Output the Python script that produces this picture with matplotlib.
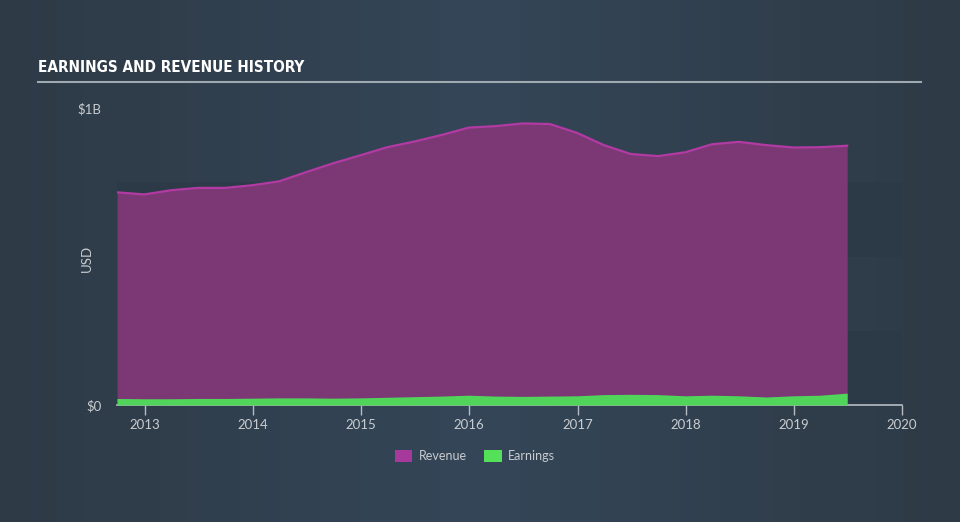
import numpy as np
import pandas as pd
import matplotlib
matplotlib.use("Agg")
import matplotlib.pyplot as plt
from matplotlib.patches import Patch
from matplotlib.colors import LinearSegmentedColormap

# ---- data (USD, billions) ----
dates = pd.date_range("2012-09-30", "2019-06-30", freq="QE")
revenue = [0.716, 0.709, 0.723, 0.731, 0.731, 0.740, 0.753, 0.784, 0.814,
           0.841, 0.868, 0.887, 0.909, 0.934, 0.939, 0.948, 0.946, 0.916,
           0.875, 0.845, 0.838, 0.851, 0.878, 0.886, 0.875, 0.867, 0.868, 0.873]
earnings = [0.022, 0.021, 0.021, 0.022, 0.022, 0.023, 0.024, 0.024, 0.023,
            0.024, 0.026, 0.028, 0.030, 0.033, 0.030, 0.029, 0.030, 0.031,
            0.035, 0.036, 0.035, 0.031, 0.033, 0.031, 0.027, 0.031, 0.033, 0.040]
year_ticks = [2013, 2014, 2015, 2016, 2017, 2018, 2019, 2020]
y_ticks = [0.0, 1.0]
y_labels = ["$0", "$1B"]
title = "EARNINGS AND REVENUE HISTORY"

rev_scaled = np.array(revenue)
earn_scaled = np.array(earnings)

fig = plt.figure(figsize=(9.6, 5.22), dpi=100)

# background gradient
bg = fig.add_axes([0, 0, 1, 1], zorder=-10)
cmap = LinearSegmentedColormap.from_list("bg", ["#2e3a46", "#344658", "#2e3a46"])
grad = np.linspace(0, 1, 256).reshape(1, -1)
bg.imshow(grad, aspect="auto", cmap=cmap, extent=[0, 1, 0, 1])
bg.set_axis_off()

W, H = 960, 522
left, right, top, bottom = 117, 902, 108, 405
ax = fig.add_axes([left / W, (H - bottom) / H, (right - left) / W, (bottom - top) / H])
ax.patch.set_alpha(0)

# bands
ax.axhspan(0.0, 0.25, color="#2b3845", alpha=0.5, lw=0, zorder=0)
ax.axhspan(0.5, 0.75, color="#2b3845", alpha=0.5, lw=0, zorder=0)

ax.fill_between(dates, 0, rev_scaled, color="#7b3875", lw=0, zorder=2)
ax.plot(dates, rev_scaled, color="#b23aa3", lw=1.6, zorder=3)
ax.fill_between(dates, 0, earn_scaled, color="#50d55a", lw=0, zorder=4)

ax.set_xlim(dates[0], pd.Timestamp("2020-01-01"))
ax.set_ylim(0, 1.0)
ax.set_xticks([pd.Timestamp(f"{y}-01-01") for y in year_ticks])
ax.set_xticklabels([str(y) for y in year_ticks])
ax.set_yticks(y_ticks)
ax.set_yticklabels(y_labels)

for s in ["top", "right", "left"]:
    ax.spines[s].set_visible(False)
ax.spines["bottom"].set_color("#b5bcc4")
ax.spines["bottom"].set_linewidth(1.2)
ax.tick_params(axis="x", colors="#b5bcc4", length=7, width=1, pad=3,
               labelcolor="#c8ccd0", labelsize=9.5)
ax.tick_params(axis="y", length=0, pad=11, labelcolor="#c8ccd0", labelsize=9.5)
for lab in ax.get_xticklabels() + ax.get_yticklabels():
    lab.set_family(["Lato", "DejaVu Sans"])

fig.text(87 / W, 1 - 258 / H, "USD", rotation=90, ha="center", va="center",
         color="#c8ccd0", fontsize=9.5, family=["Lato", "DejaVu Sans"])

# title
fig.text(38 / W, 1 - 68 / H, title, ha="left", va="center", color="white",
         fontsize=11, fontweight="bold", fontstretch="condensed",
         family=["DejaVu Sans"])
fig.add_artist(plt.Line2D([38 / W, 921 / W], [1 - 82 / H, 1 - 82 / H],
                          color="#a0a8b0", lw=1.5))

handles = [Patch(facecolor="#a8399c", label="Revenue"),
           Patch(facecolor="#55e05a", label="Earnings")]
leg = fig.legend(handles=handles, loc="center", bbox_to_anchor=(475 / W, 1 - 456 / H),
                 ncol=2, frameon=False, handlelength=1.4, handleheight=1.2,
                 columnspacing=1.4, handletextpad=0.5,
                 prop={"family": ["Lato", "DejaVu Sans"], "size": 9})
for t in leg.get_texts():
    t.set_color("#c8ccd0")

fig.savefig("out.png", dpi=100)
